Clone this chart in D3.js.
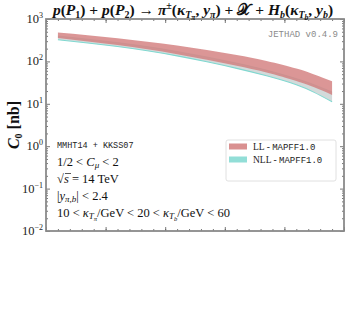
<!DOCTYPE html>
<html><head><meta charset="utf-8">
<script src="https://cdn.jsdelivr.net/npm/d3@7"></script>
<style>body{margin:0;background:#fff;}svg{display:block;}</style>
</head><body>
<svg id="c" width="349" height="328"></svg>
<script>
// ---- data ----
const deltaY   = [0.2, 0.7, 1.2, 1.7, 2.2, 2.7, 3.2, 3.7, 4.2, 4.5, 4.8];
const llUpper  = [478.6, 412.1, 350.8, 291.7, 237.1, 186.2, 141.3, 102.3, 67.6, 49.0, 33.9];
const llLower  = [354.8, 295.1, 242.7, 192.8, 147.9, 109.6, 79.4, 55.0, 34.7, 24.5, 16.2];
const nllUpper = [398.1, 335.0, 278.6, 223.9, 171.8, 127.4, 91.2, 62.4, 39.4, 28.2, 19.1];
const nllLower = [323.6, 272.3, 223.9, 177.8, 134.9, 97.7, 68.4, 45.7, 28.2, 18.6, 11.2];
const yTickValues = [1e-2, 1e-1, 1e0, 1e1, 1e2, 1e3];
const yTickExps = ["\u22122", "\u22121", "0", "1", "2", "3"];
const xDomain = [0, 5];
const legendNames = ["LL", "NLL"];
const legendFF = "MAPFF1.0";
const annotLines = ["MMHT14 + KKSS07"];

const svg = d3.select("#c");
const M = {l: 46, r: 344, t: 19, b: 231};
const x = d3.scaleLinear().domain(xDomain).range([M.l, M.r]);
const y = d3.scaleLog().domain([1e-2, 1e3]).range([M.b, M.t]);

const llColor = "#d27c7c", nllColor = "#7fd8d0";

// bands
const rows = deltaY.map((d, i) => ({x: d, lu: llUpper[i], ll: llLower[i], nu: nllUpper[i], nl: nllLower[i]}));
const area = (u, l) => d3.area().x(d => x(d.x)).y0(d => y(d[l])).y1(d => y(d[u])).curve(d3.curveNatural);
const line = k => d3.line().x(d => x(d.x)).y(d => y(d[k])).curve(d3.curveNatural);

svg.append("path").datum(rows).attr("d", area("nu", "nl")).attr("fill", "#d3dada");
svg.append("path").datum(rows).attr("d", line("nl")).attr("fill", "none").attr("stroke", nllColor).attr("stroke-width", 1.1);
svg.append("path").datum(rows).attr("d", line("nu")).attr("fill", "none").attr("stroke", nllColor).attr("stroke-width", 0.8).attr("opacity", 0.6);
svg.append("path").datum(rows).attr("d", area("lu", "ll")).attr("fill", llColor).attr("opacity", 0.8);

// frame
const gFrame = svg.append("g");
const frameColor = "#8a8a8a";

const minor = [];
for (let e = -2; e < 3; e++) for (let m = 2; m <= 9; m++) minor.push(m * Math.pow(10, e));
[[M.l, d3.axisRight], [M.r, d3.axisLeft]].forEach(([px, ax]) => {
  const gA = gFrame.append("g").attr("transform", `translate(${px},0)`).call(ax(y).tickValues(yTickValues).tickSize(4).tickFormat(""));
  const gB = gFrame.append("g").attr("transform", `translate(${px},0)`).call(ax(y).tickValues(minor).tickSize(2).tickFormat(""));
  [gA, gB].forEach(g => { g.select(".domain").remove(); g.selectAll("line").attr("stroke", "#555").attr("stroke-width", 0.8); });
});
const xMajor = d3.range(0, 5.01, 1), xMinor = d3.range(0, 5.01, 0.2);
[[M.b, d3.axisTop], [M.t, d3.axisBottom]].forEach(([py, ax]) => {
  const gA = gFrame.append("g").attr("transform", `translate(0,${py})`).call(ax(x).tickValues(xMajor).tickSize(4).tickFormat(""));
  const gB = gFrame.append("g").attr("transform", `translate(0,${py})`).call(ax(x).tickValues(xMinor).tickSize(2).tickFormat(""));
  [gA, gB].forEach(g => { g.select(".domain").remove(); g.selectAll("line").attr("stroke", "#555").attr("stroke-width", 0.8); });
});
gFrame.append("rect").attr("x", M.l).attr("y", M.t).attr("width", M.r - M.l).attr("height", M.b - M.t)
  .attr("fill", "none").attr("stroke", frameColor).attr("stroke-width", 1.8);

// y tick labels
const serif = "'Liberation Serif', 'DejaVu Serif', serif";
yTickValues.forEach((v, i) => {
  const t = svg.append("text").attr("x", M.l - 3).attr("y", y(v) + 4).attr("text-anchor", "end")
    .attr("font-family", serif).attr("font-size", 12.5).attr("fill", "#222");
  t.append("tspan").text("10");
  t.append("tspan").attr("font-size", 8).attr("dy", -5).text(yTickExps[i]);
});

// y label
const yl = svg.append("text").attr("transform", `translate(19,${(M.t + M.b) / 2}) rotate(-90)`)
  .attr("text-anchor", "middle").attr("font-family", serif).attr("font-size", 16).attr("fill", "#111");
yl.append("tspan").attr("font-style", "italic").attr("font-weight", "bold").text("C");
yl.append("tspan").attr("font-size", 10).attr("dy", 3).attr("font-weight", "bold").text("0");
yl.append("tspan").attr("dy", -3).attr("font-weight", "bold").text(" [nb]");

// title
const tt = svg.append("text").attr("x", (M.l + M.r) / 2 - 2).attr("y", 15).attr("text-anchor", "middle")
  .attr("font-family", serif).attr("font-size", 15.5).attr("font-weight", "bold").attr("fill", "#111");
const seg = (txt, o = {}) => {
  const s = tt.append("tspan").text(txt);
  if (o.i) s.attr("font-style", "italic");
  if (o.fs) s.attr("font-size", o.fs);
  if (o.dy) s.attr("dy", o.dy);
  return s;
};
seg("p", {i: 1}); seg("("); seg("P", {i: 1}); seg("1", {fs: 10, dy: 3}); seg(") + ", {dy: -3});
seg("p", {i: 1}); seg("("); seg("P", {i: 1}); seg("2", {fs: 10, dy: 3}); seg(") \u2192 ", {dy: -3});
seg("\u03C0", {i: 1}); seg("\u00B1", {fs: 10, dy: -6}); seg("(", {dy: 6}); seg("\u03BA", {i: 1});
seg("T", {i: 1, fs: 10, dy: 3}); seg("\u03C0", {i: 1, fs: 7.5, dy: 2}); seg(", ", {dy: -5}); seg("y", {i: 1});
seg("\u03C0", {i: 1, fs: 10, dy: 3}); seg(") + ", {dy: -3}); seg("\uD835\uDCB3"); seg(" + ");
seg("H", {i: 1}); seg("b", {i: 1, fs: 10, dy: 3}); seg("(", {dy: -3}); seg("\u03BA", {i: 1});
seg("T", {i: 1, fs: 10, dy: 3}); seg("b", {i: 1, fs: 7.5, dy: 2}); seg(", ", {dy: -5}); seg("y", {i: 1});
seg("b", {i: 1, fs: 10, dy: 3}); seg(")", {dy: -3});

// JETHAD tag
const mono = "'Liberation Mono', 'DejaVu Sans Mono', monospace";
svg.append("text").attr("x", 338).attr("y", 37).attr("text-anchor", "end")
  .attr("font-family", mono).attr("font-size", 9).attr("fill", "#8a8a8a")
  .text("JETHAD v0.4.9");

// annotations
const ax0 = 57;
svg.append("text").attr("x", ax0).attr("y", 148).attr("font-family", mono).attr("font-size", 8.5).attr("fill", "#222").text(annotLines[0]);
function mathLine(yPos, parts) {
  const t = svg.append("text").attr("x", ax0).attr("y", yPos).attr("font-family", serif).attr("font-size", 12.5).attr("fill", "#111");
  parts.forEach(p => {
    const s = t.append("tspan").text(p[0]);
    if (p[1]) s.attr("font-style", "italic");
    if (p[2]) s.attr("font-size", p[2]);
    if (p[3]) s.attr("dy", p[3]);
  });
}
mathLine(166, [["1/2 < "], ["C", 1], ["\u03BC", 1, 9, 2], [" < 2", 0, null, -2]]);
mathLine(183, [["\u221A"], ["s", 1], [" = 14 TeV"]]);
mathLine(200, [["|"], ["y", 1], ["\u03C0,b", 1, 9, 2], ["| < 2.4", 0, null, -2]]);
mathLine(217, [["10 < "], ["\u03BA", 1], ["T", 1, 9, 2], ["\u03C0", 1, 6.5, 1.5], ["/GeV < 20 < ", 0, null, -3.5], ["\u03BA", 1], ["T", 1, 9, 2], ["b", 1, 6.5, 1.5], ["/GeV < 60", 0, null, -3.5]]);
svg.append("line").attr("x1", ax0 + 8).attr("x2", ax0 + 14).attr("y1", 173.5).attr("y2", 173.5).attr("stroke", "#111").attr("stroke-width", 0.7);

// legend
const lg = svg.append("g");
lg.append("rect").attr("x", 226).attr("y", 140).attr("width", 110).attr("height", 41).attr("rx", 2)
  .attr("fill", "#fff").attr("stroke", "#d8d8d8").attr("stroke-width", 0.8);
[llColor, nllColor].forEach((c, i) => {
  lg.append("rect").attr("x", 229).attr("y", 143.5 + i * 13).attr("width", 18).attr("height", 6).attr("fill", c).attr("opacity", 0.85);
  const t = lg.append("text").attr("x", 253).attr("y", 150 + i * 13).attr("fill", "#222");
  t.append("tspan").attr("font-family", serif).attr("font-size", 9.5).text(legendNames[i] + " - ");
  t.append("tspan").attr("font-family", mono).attr("font-size", 9).text(legendFF);
});
</script>
</body></html>
